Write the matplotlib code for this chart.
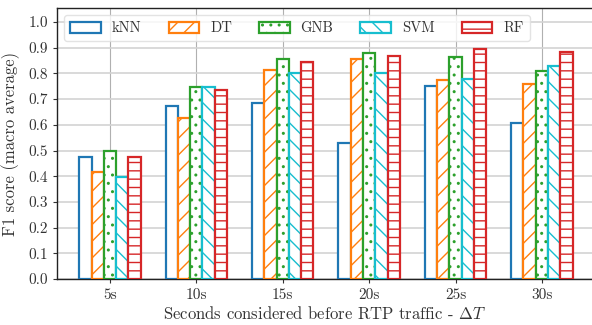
import matplotlib
matplotlib.use("Agg")
import matplotlib.pyplot as plt
import numpy as np
from matplotlib.ticker import FormatStrFormatter

categories = ["5s", "10s", "15s", "20s", "25s", "30s"]
models = ["kNN", "DT", "GNB", "SVM", "RF"]
knn = [0.475, 0.673, 0.685, 0.529, 0.750, 0.607]
dt = [0.416, 0.626, 0.813, 0.856, 0.774, 0.759]
gnb = [0.500, 0.747, 0.856, 0.879, 0.864, 0.810]
svm = [0.395, 0.747, 0.800, 0.800, 0.780, 0.829]
rf = [0.475, 0.735, 0.844, 0.868, 0.895, 0.883]
series = [knn, dt, gnb, svm, rf]

colors = ["#1f77b4", "#ff7f0e", "#2ca02c", "#17becf", "#d62728"]
hatches = [None, "//", "..", "\\\\", "--"]

plt.rcParams["font.family"] = "cmr10"
plt.rcParams["mathtext.fontset"] = "cm"
plt.rcParams["axes.formatter.use_mathtext"] = True
plt.rcParams["hatch.linewidth"] = 1.0

fig = plt.figure(figsize=(5.92, 3.25), dpi=100)
ax = fig.add_axes([0.0963, 0.1415, 0.9037, 0.8335])

x = np.arange(len(categories))
w = 0.142
for i, (vals, c, h, name) in enumerate(zip(series, colors, hatches, models)):
    ax.bar(x + (i - 2) * w, vals, width=w, facecolor="white", edgecolor=c,
           hatch=h, linewidth=1.6, label=name, zorder=3)

ax.set_xlim(-0.613, 5.58)
ax.set_ylim(0, 1.054)
ax.set_yticks(np.arange(0, 1.01, 0.1))
ax.yaxis.set_major_formatter(FormatStrFormatter("%.1f"))
ax.set_xticks(x)
ax.set_xticklabels(categories)
ax.tick_params(labelsize=11, colors="#333333", length=3, width=0.8)
ax.tick_params(axis="both", color="#333333")

ax.set_axisbelow(True)
ax.grid(axis="y", color="#d3d3d3", linewidth=1.2, zorder=0)
ax.grid(axis="x", color="#b0b0b0", linewidth=0.8, zorder=0)

for s in ["left", "bottom", "top"]:
    ax.spines[s].set_color("#222222")
    ax.spines[s].set_linewidth(1.0)
ax.spines["right"].set_visible(False)

ax.set_ylabel("F1 score (macro average)", fontsize=12, color="#333333", labelpad=6)
ax.set_xlabel(r"Seconds considered before RTP traffic - $\Delta T$", fontsize=12,
              color="#333333", labelpad=2)

leg = ax.legend(loc="upper left", ncol=5, fontsize=10.5, handlelength=2.1,
                handleheight=0.75, columnspacing=1.85, handletextpad=0.75,
                frameon=True, fancybox=True, framealpha=0.8,
                edgecolor="#dddddd", borderpad=0.42, borderaxespad=0.5)
for t in leg.get_texts():
    t.set_color("#333333")

fig.savefig("out.png", dpi=100)
